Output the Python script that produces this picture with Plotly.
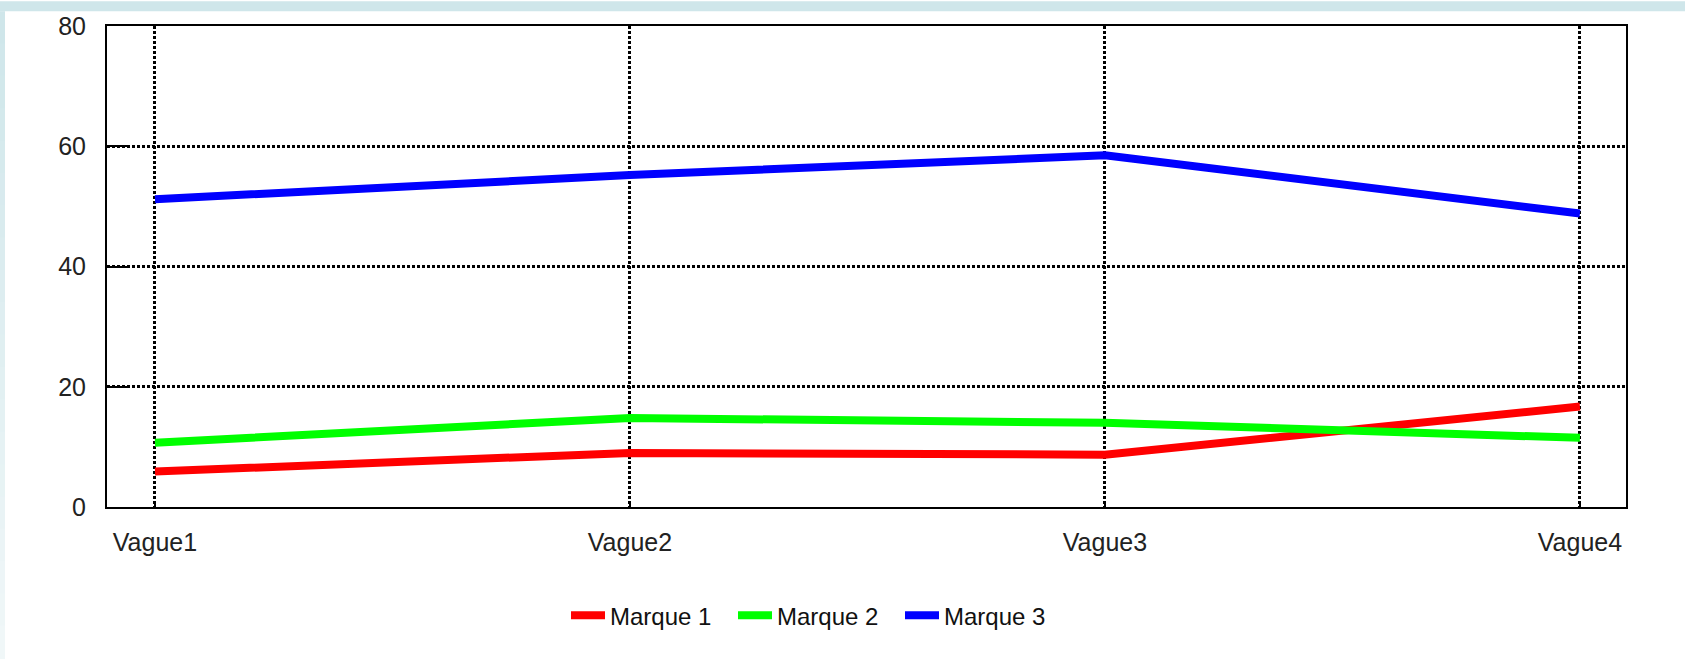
import plotly.graph_objects as go

categories = ["Vague1", "Vague2", "Vague3", "Vague4"]
marque1 = [5.9, 9.0, 8.7, 16.7]
marque2 = [10.7, 14.8, 14.0, 11.5]
marque3 = [51.2, 55.2, 58.5, 48.8]
series_names = ["Marque 1", "Marque 2", "Marque 3"]
colors = ["#ff0000", "#00ff00", "#0000ff"]
y_ticks = [0, 20, 40, 60, 80]

W, H = 1685, 660
L, R, T, B = 107, 1685 - 1626, 20, 660 - 507
pw, ph = W - L - R, H - T - B

def px_x(p):
    return (p - L) / pw

def px_y(p):
    return (H - B - p) / ph

fig = go.Figure()
for name, vals, col in zip(series_names, [marque1, marque2, marque3], colors):
    fig.add_trace(go.Scatter(x=categories, y=vals, name=name, mode="lines",
                             line=dict(color=col, width=8)))

shapes = []
# top strip
shapes.append(dict(type="rect", xref="paper", yref="paper", x0=px_x(0), x1=px_x(W + 5),
                   y0=px_y(5), y1=px_y(-5), fillcolor="#cfe6ea", line=dict(width=0), layer="below"))
# left gradient strip
n = 20
c0 = (0xcf, 0xe6, 0xea)
c1 = (0xf0, 0xf7, 0xf8)
for i in range(n):
    t = i / (n - 1)
    c = tuple(int(round(a + (b - a) * t)) for a, b in zip(c0, c1))
    y0p = 5 + (H - 5) * i / n
    y1p = 5 + (H - 5) * (i + 1) / n
    shapes.append(dict(type="rect", xref="paper", yref="paper", x0=px_x(-5), x1=px_x(5),
                       y0=px_y(y1p + 1), y1=px_y(y0p), fillcolor="rgb(%d,%d,%d)" % c,
                       line=dict(width=0), layer="below"))

fig.update_layout(
    width=W, height=H,
    margin=dict(l=L, r=R, t=T, b=B),
    paper_bgcolor="white", plot_bgcolor="white",
    font=dict(family="Liberation Sans, Arial, sans-serif", color="#222222"),
    shapes=shapes,
    showlegend=True,
    legend=dict(orientation="h", x=px_x(566), xanchor="left", y=px_y(617), yanchor="middle",
                font=dict(size=24, family="Liberation Sans Narrow, Liberation Sans, Arial", color="#111111"),
                itemwidth=34, entrywidth=118, entrywidthmode="pixels", bgcolor="rgba(0,0,0,0)"),
    xaxis=dict(type="category", range=[-0.101, 3.097], showgrid=True, gridcolor="black",
               gridwidth=2.5, griddash="3px,2px", showline=True, linecolor="black", linewidth=2,
               mirror=True, ticks="inside", ticklen=6, tickcolor="black", tickwidth=2,
               tickfont=dict(size=25), ticklabelstandoff=12, zeroline=False),
    yaxis=dict(range=[0, 80], tickvals=y_ticks, showgrid=True, gridcolor="black",
               gridwidth=2.5, griddash="3px,2px", showline=True, linecolor="black", linewidth=2,
               mirror=True, ticks="inside", ticklen=23, tickcolor="black", tickwidth=2,
               tickfont=dict(size=25), ticklabelstandoff=14, zeroline=False),
)

fig.write_html("out.html", config={"displayModeBar": False},
               post_script="document.body.style.margin='0';")
